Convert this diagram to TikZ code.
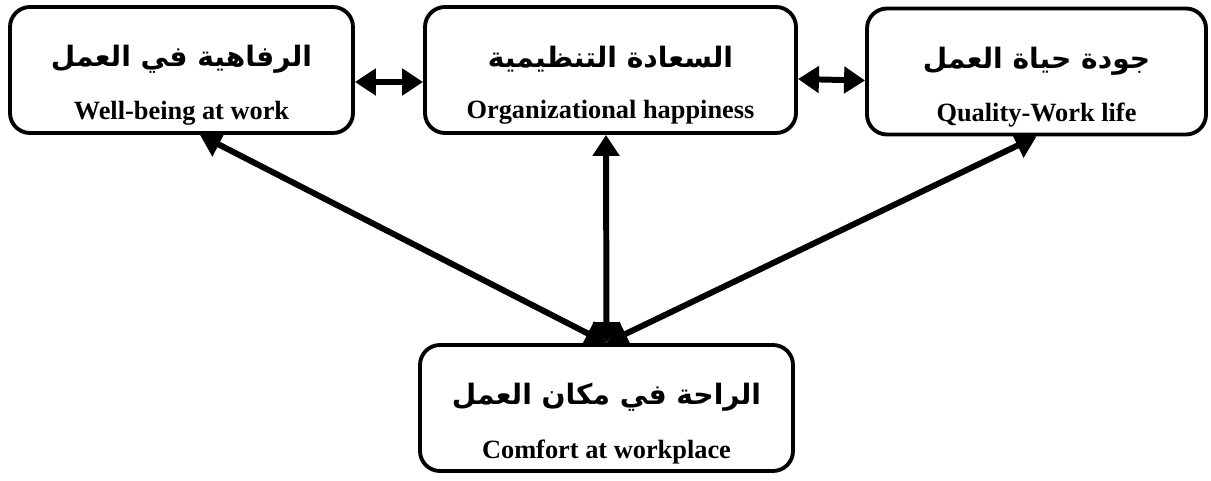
\documentclass[tikz,border=0pt]{standalone}
\usepackage{fontspec}
\setmainfont{Liberation Serif}
\newfontfamily\arabicfont[Script=Arabic]{DejaVu Sans}
\TeXXeTstate=1
\usetikzlibrary{arrows.meta}
\newcommand{\artxt}[1]{{\rule{0pt}{1.05cm}\arabicfont\bfseries\fontsize{16}{18}\selectfont\beginR #1\endR}}
\newcommand{\entxt}[1]{{\bfseries\fontsize{15}{18}\selectfont #1}}

\begin{document}
\begin{tikzpicture}[
    box/.style={draw,line width=2.2pt,rounded corners=0.4cm,minimum height=2.52cm,align=center,inner sep=2pt},
    link/.style={line width=3.4pt,{Triangle[length=0.42cm,width=0.52cm]}-{Triangle[length=0.42cm,width=0.52cm]}}]
\useasboundingbox (0,0) rectangle (24.22,-9.62);
\node[box,minimum width=6.86cm] (wb) at (3.63,-1.4) {\artxt{الرفاهية في العمل}\\[15pt]\entxt{Well-being at work}};
\node[box,minimum width=7.42cm] (oh) at (12.21,-1.4) {\artxt{السعادة التنظيمية}\\[15pt]\entxt{Organizational happiness}};
\node[box,minimum width=6.78cm] (qw) at (20.73,-1.43) {\artxt{جودة حياة العمل}\\[15pt]\entxt{Quality-Work life}};
\node[box,minimum width=7.46cm] (cw) at (12.13,-8.16) {\artxt{الراحة في مكان العمل}\\[15pt]\entxt{Comfort at workplace}};
\draw[link] ([yshift=-0.24cm]wb.east) -- ([yshift=-0.24cm]oh.west);
\draw[link] ([yshift=-0.18cm]oh.east) -- ([yshift=-0.18cm]qw.west);
\draw[link] ([xshift=-0.09cm]oh.south) -- (cw.north);
\draw[link] ([xshift=0.37cm]wb.south) -- (cw.north);
\draw[link] (qw.south) -- (cw.north);
\end{tikzpicture}
\end{document}
